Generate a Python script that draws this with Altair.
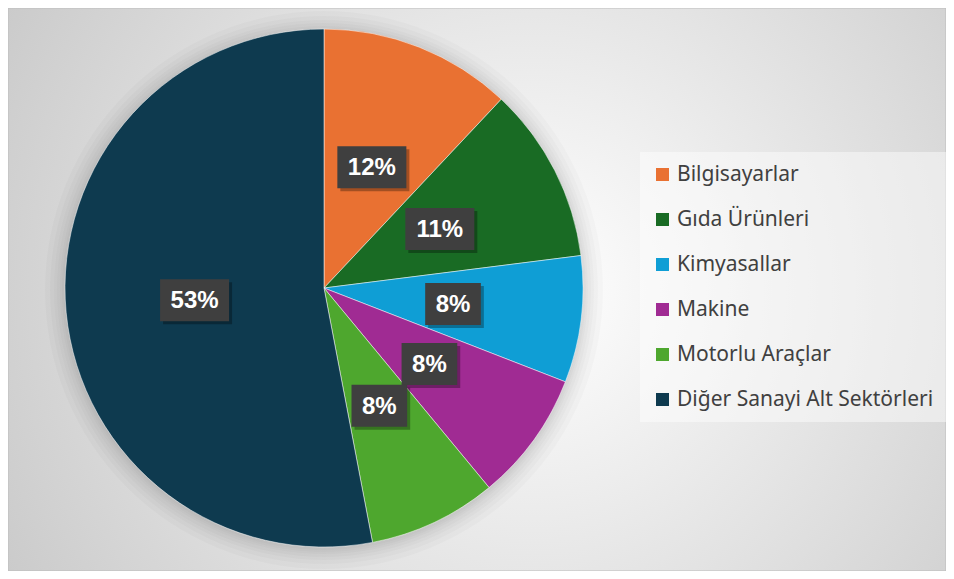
import altair as alt
import pandas as pd

categories = ["Bilgisayarlar", "Gıda Ürünleri", "Kimyasallar", "Makine",
              "Motorlu Araçlar", "Diğer Sanayi Alt Sektörleri"]
values = [12.0, 11.0, 7.9, 8.1, 8.0, 53.0]
colors = ["#E97132", "#196B24", "#0F9ED5", "#A02B93", "#4EA72E", "#0E3A4F"]

W, H = 938, 563
CX, CY = 316, 280
R = 259
LR = 130

df = pd.DataFrame({"cat": categories, "value": values, "idx": list(range(len(categories)))})
one = alt.Data(values=[{}])

bg = alt.Chart(one).mark_rect(
    fill=alt.RadialGradient(
        gradient="radial",
        stops=[alt.GradientStop(offset=0, color="#ffffff"),
               alt.GradientStop(offset=1, color="#c4c4c4")],
        x1=0.56, y1=0.5, r1=0, x2=0.56, y2=0.5, r2=0.72),
    stroke="#bdbdbd", strokeWidth=1,
).encode(x=alt.value(0), x2=alt.value(W), y=alt.value(0), y2=alt.value(H))

shadows = [
    alt.Chart(one).mark_arc(theta=0, theta2=6.2832, radius=R + d, color="black", opacity=0.018)
    .encode(x=alt.value(CX), y=alt.value(CY + 2))
    for d in (1, 3, 5, 8, 11, 15, 20)
]

pie = alt.Chart(df).mark_arc(radius=R, stroke="white", strokeWidth=0.5).encode(
    theta=alt.Theta("value:Q", stack=True),
    order=alt.Order("idx:Q"),
    color=alt.Color(
        "cat:N",
        scale=alt.Scale(domain=categories, range=colors),
        sort=categories,
        legend=alt.Legend(
            title=None, orient="none", legendX=632, legendY=144,
            symbolType="square", symbolSize=169, symbolStrokeWidth=0,
            labelFontSize=21, labelFont="Noto Sans", labelColor="#404040",
            rowPadding=23, padding=12, fillColor="rgba(255,255,255,0.45)",
            labelOffset=4, labelLimit=400,
        ),
    ),
    x=alt.value(CX), y=alt.value(CY),
)

lab = alt.Chart(df).transform_joinaggregate(
    total="sum(value)"
).transform_window(
    cum="sum(value)", sort=[alt.SortField("idx")], frame=[None, 0]
).transform_calculate(
    mid="(datum.cum - datum.value/2)/datum.total*2*PI",
    lbl="format(datum.value/datum.total, '.0%')",
    px=f"{CX} + {LR}*sin(datum.mid)",
    py=f"{CY} - {LR}*cos(datum.mid)",
    bw="21 + 24*(0.889 + 0.556*(length(datum.lbl)-1))",
    x0="datum.px - datum.bw/2",
    x1="datum.px + datum.bw/2",
    y0="datum.py - 21",
    y1="datum.py + 21",
    sx0="datum.x0 + 3", sx1="datum.x1 + 3",
    sy0="datum.y0 + 3", sy1="datum.y1 + 3",
)

box_shadow = lab.mark_rect(color="black", opacity=0.3).encode(
    x=alt.X("sx0:Q", scale=None, axis=None), x2="sx1:Q",
    y=alt.Y("sy0:Q", scale=None, axis=None), y2="sy1:Q",
)
box = lab.mark_rect(color="#3f3f3f").encode(
    x=alt.X("x0:Q", scale=None, axis=None), x2="x1:Q",
    y=alt.Y("y0:Q", scale=None, axis=None), y2="y1:Q",
)
txt = lab.mark_text(font="Liberation Sans", fontSize=24, fontWeight="bold", color="white",
                    align="center", baseline="middle", dy=1).encode(
    x=alt.X("px:Q", scale=None, axis=None),
    y=alt.Y("py:Q", scale=None, axis=None),
    text="lbl:N",
)

chart = alt.layer(bg, *shadows, pie, box_shadow, box, txt).properties(
    width=W, height=H, padding=0, autosize="none"
).configure_view(stroke=None)

chart.save("out.html", embed_options={"renderer": "svg", "actions": False})
